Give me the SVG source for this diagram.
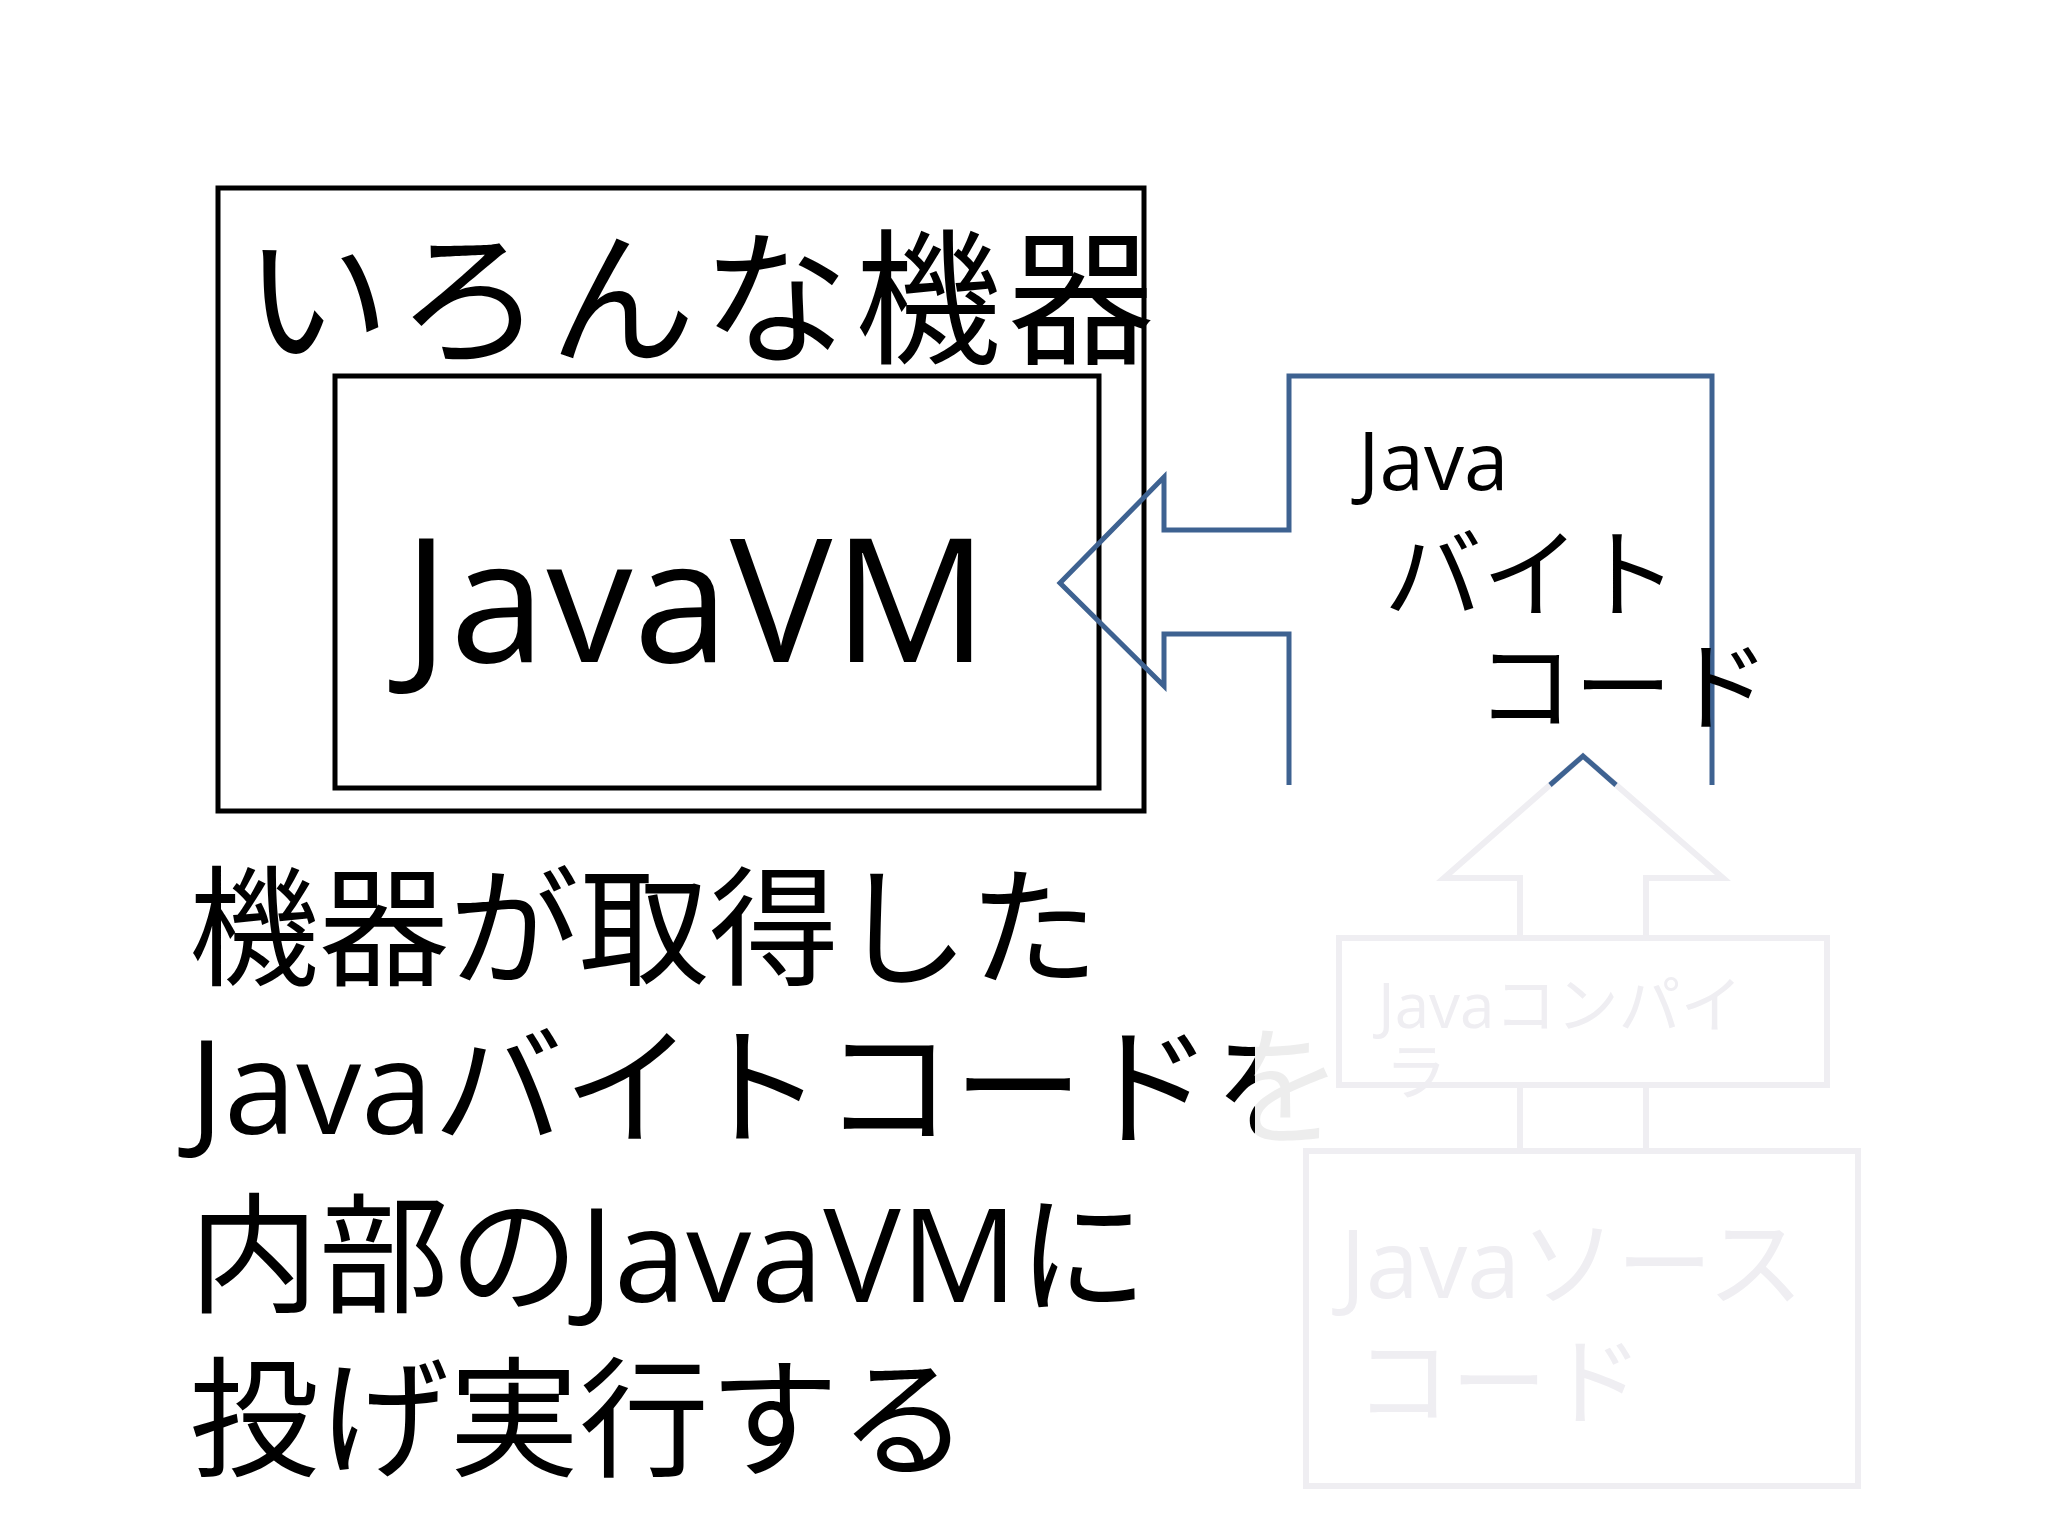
<svg xmlns="http://www.w3.org/2000/svg" width="2048" height="1536" viewBox="0 0 2048 1536">
<style>
.jp{font-family:"Liberation Serif","Noto Sans CJK JP",serif;fill:#000}
.la{font-family:"Open Sans","Noto Sans","Noto Sans CJK JP",sans-serif;fill:#000}
.g{fill:none;stroke:#efeef2;stroke-width:6}
.gt{fill:#efeef2}
</style>
<rect width="2048" height="1536" fill="#fff"/>
<g id="device">
<rect x="218" y="188" width="926" height="623" fill="none" stroke="#000" stroke-width="5"/>
<text class="jp" x="244" y="352" font-size="146" textLength="910">いろんな機器</text>
</g>
<g id="javavm">
<rect x="335" y="376" width="764" height="412" fill="none" stroke="#000" stroke-width="5"/>
<text class="la" x="403" y="662" font-size="172" textLength="585">JavaVM</text>
</g>
<g id="bytecode">
<path d="M1289,785 V634 H1164 V686 L1060,583 L1164,477 V530 H1289 V376 H1712 V785" fill="none" stroke="#3e6291" stroke-width="5"/>
<text class="la" x="1358" y="490" font-size="80">Java</text>
<text class="jp" x="1384" y="610" font-size="98">バイト</text>
<text class="jp" x="1476" y="722" font-size="98">コード</text>
</g>
<g id="desc">
<text class="jp" x="189" y="975" font-size="130">機器が取得した</text>
<text class="jp" x="189" y="1134" font-size="130"><tspan class="la">Java</tspan>バイトコードを</text>
<text class="jp" x="189" y="1302" font-size="130">内部の<tspan class="la">JavaVM</tspan>に</text>
<text class="jp" x="189" y="1466" font-size="130">投げ実行する</text>
</g>
<rect x="1255" y="785" width="793" height="751" fill="#fff" opacity="0.93"/>
<g id="connectors">
<path class="g" d="M1520,938 V878 H1444 L1583,756 L1723,878 H1646 V938"/>
<path class="g" d="M1520,1085 V1151 M1646,1085 V1151"/>
<path d="M1550,785 L1583,756 L1616,785" fill="none" stroke="#3e6291" stroke-width="5"/>
</g>
<g id="compiler">
<rect class="g" x="1339" y="938" width="488" height="147"/>
<text class="gt" x="1378" y="1028" font-size="62" font-family="'Open Sans','Noto Sans CJK JP',sans-serif">Java<tspan font-family="'Liberation Serif','Noto Sans CJK JP',serif">コンパイ</tspan></text>
<text class="gt" x="1385" y="1095" font-size="62" font-family="'Liberation Serif','Noto Sans CJK JP',serif">ラ</text>
</g>
<g id="source">
<rect class="g" x="1306" y="1151" width="552" height="335"/>
<text class="gt" x="1340" y="1298" font-size="96" font-family="'Open Sans','Noto Sans CJK JP',sans-serif">Java<tspan font-family="'Liberation Serif','Noto Sans CJK JP',serif">ソース</tspan></text>
<text class="gt" x="1355" y="1416" font-size="96" font-family="'Liberation Serif','Noto Sans CJK JP',serif">コード</text>
</g>
</svg>
